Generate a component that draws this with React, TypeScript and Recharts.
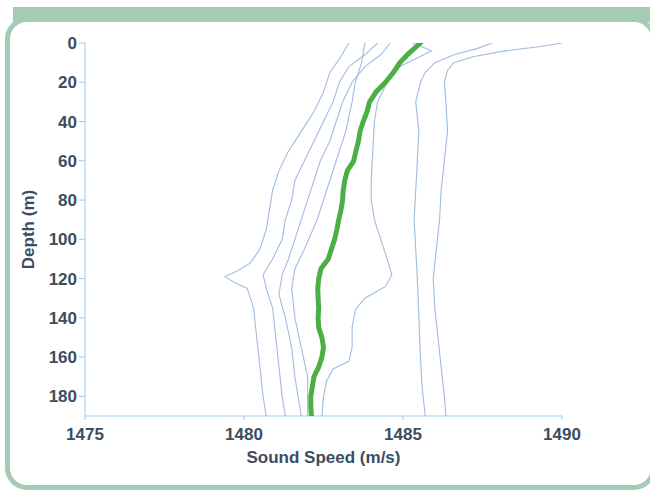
import React from 'react';
import { ScatterChart, Scatter, XAxis, YAxis, Label } from 'recharts';

// Sound speed profiles (depth m -> speed m/s)
const depthA = [0, 2, 4, 7, 10, 14, 20, 30, 45, 60, 75, 90, 105, 120, 135, 150, 165, 180, 190];
const speedA = [1490.0, 1489.2, 1488.2, 1487.2, 1486.6, 1486.4, 1486.3, 1486.35, 1486.4, 1486.3, 1486.2, 1486.15, 1486.05, 1485.95, 1486.0, 1486.1, 1486.2, 1486.3, 1486.35];

const depthB = [0, 3, 6, 10, 15, 20, 30, 45, 60, 75, 90, 105, 120, 140, 160, 175, 190];
const speedB = [1487.8, 1487.3, 1486.6, 1486.0, 1485.7, 1485.55, 1485.4, 1485.5, 1485.45, 1485.4, 1485.35, 1485.4, 1485.45, 1485.5, 1485.55, 1485.6, 1485.7];

const depthC = [0, 4, 8, 12, 20, 30, 40, 55, 70, 80, 90, 100, 110, 118, 124, 130, 136, 145, 155, 162, 166, 172, 180, 190];
const speedC = [1485.3, 1485.9, 1485.4, 1484.9, 1484.5, 1484.2, 1484.1, 1484.05, 1484.0, 1484.0, 1484.1, 1484.3, 1484.5, 1484.65, 1484.45, 1483.8, 1483.5, 1483.4, 1483.4, 1483.3, 1482.8, 1482.6, 1482.5, 1482.45];

const depthD = [0, 8, 15, 25, 35, 45, 55, 65, 75, 85, 95, 105, 112, 116, 119, 122, 125, 135, 150, 165, 180, 190];
const speedD = [1483.3, 1483.0, 1482.7, 1482.5, 1482.2, 1481.8, 1481.4, 1481.1, 1480.9, 1480.8, 1480.7, 1480.5, 1480.2, 1479.8, 1479.4, 1479.7, 1480.1, 1480.3, 1480.4, 1480.5, 1480.6, 1480.7];

const depthE = [0, 6, 12, 20, 30, 40, 50, 60, 70, 80, 90, 100, 110, 118, 125, 135, 150, 165, 180, 190];
const speedE = [1484.2, 1483.8, 1483.3, 1483.0, 1482.8, 1482.5, 1482.2, 1481.9, 1481.6, 1481.5, 1481.3, 1481.2, 1480.9, 1480.6, 1480.7, 1480.9, 1481.0, 1481.1, 1481.2, 1481.3];

const depthF = [0, 6, 12, 20, 30, 40, 50, 60, 70, 80, 90, 100, 110, 118, 128, 140, 155, 170, 180, 190];
const speedF = [1484.6, 1484.3, 1483.8, 1483.4, 1483.1, 1482.9, 1482.7, 1482.4, 1482.2, 1482.0, 1481.8, 1481.6, 1481.4, 1481.2, 1481.1, 1481.3, 1481.5, 1481.6, 1481.7, 1481.8];

const depthH = [0, 10, 20, 30, 45, 60, 75, 90, 105, 115, 125, 140, 155, 170, 190];
const speedH = [1483.8, 1483.7, 1483.5, 1483.4, 1483.2, 1482.9, 1482.6, 1482.3, 1481.9, 1481.6, 1481.5, 1481.6, 1481.8, 1482.0, 1482.0];

// mean profile
const depthMean = [0, 5, 10, 15, 20, 25, 30, 35, 40, 45, 50, 55, 60, 65, 70, 75, 80, 85, 90, 95, 100, 105, 110, 115, 120, 125, 130, 135, 140, 145, 150, 155, 160, 165, 170, 175, 180, 185, 190];
const speedMean = [1485.55, 1485.2, 1484.9, 1484.7, 1484.45, 1484.15, 1483.95, 1483.87, 1483.75, 1483.65, 1483.6, 1483.52, 1483.45, 1483.25, 1483.17, 1483.12, 1483.1, 1483.05, 1482.98, 1482.92, 1482.85, 1482.75, 1482.65, 1482.42, 1482.35, 1482.32, 1482.33, 1482.35, 1482.33, 1482.35, 1482.45, 1482.5, 1482.45, 1482.35, 1482.2, 1482.15, 1482.1, 1482.1, 1482.12];

const xTicks = [1475, 1480, 1485, 1490];
const yTicks = [0, 20, 40, 60, 80, 100, 120, 140, 160, 180];

const toRows = (depth: number[], speed: number[]) => depth.map((d, i) => ({ d, s: speed[i] }));

const profiles = [
  toRows(depthA, speedA),
  toRows(depthB, speedB),
  toRows(depthC, speedC),
  toRows(depthD, speedD),
  toRows(depthE, speedE),
  toRows(depthF, speedF),
  toRows(depthH, speedH),
];
const meanRows = toRows(depthMean, speedMean);

const FRAME = '#a6cbb5';
const AXIS = '#9ccbe6';
const TEXT = '#3b4d61';
const FONT = '"Liberation Sans", Arial, sans-serif';

const noDot = () => <g />;

export default function App() {
  return (
    <div style={{ position: 'absolute', left: 0, top: 0, width: 650, height: 492, background: '#fff', overflow: 'hidden' }}>
      <div style={{ position: 'absolute', left: 13, top: 7, width: 637, height: 15, background: FRAME }} />
      <div
        style={{
          position: 'absolute', left: 5, top: 17, width: 651, height: 473,
          border: `5px solid ${FRAME}`, borderRadius: 22, boxSizing: 'border-box', background: '#fff',
        }}
      />
      <div style={{ position: 'absolute', left: 0, top: 0 }}>
        <ScatterChart width={650} height={492} margin={{ top: 43, right: 88, left: 0, bottom: 0 }}>
          <XAxis
            type="number"
            dataKey="s"
            domain={[1475, 1490]}
            ticks={xTicks}
            allowDataOverflow
            height={76}
            stroke={AXIS}
            tickSize={4}
            tickMargin={8}
            tick={{ fill: TEXT, fontSize: 17, fontWeight: 700, fontFamily: FONT }}
          >
            <Label value="Sound Speed (m/s)" position="center" dy={3} fill={TEXT} fontSize={17} fontWeight={700} fontFamily={FONT} />
          </XAxis>
          <YAxis
            type="number"
            dataKey="d"
            domain={[0, 190]}
            ticks={yTicks}
            reversed
            allowDataOverflow
            width={85}
            stroke={AXIS}
            tickSize={6}
            tickMargin={2}
            tick={{ fill: TEXT, fontSize: 17, fontWeight: 700, fontFamily: FONT }}
          >
            <Label value="Depth (m)" position="center" angle={-90} dx={-15} fill={TEXT} fontSize={17} fontWeight={700} fontFamily={FONT} />
          </YAxis>
          {profiles.map((rows, i) => (
            <Scatter
              key={i}
              data={rows}
              fill="none"
              line={{ stroke: '#8fb0db', strokeWidth: 1.1, strokeOpacity: 0.85 }}
              shape={noDot}
              isAnimationActive={false}
            />
          ))}
          <Scatter
            data={meanRows}
            fill="none"
            line={{ stroke: '#4caf45', strokeWidth: 5, strokeLinejoin: 'round', strokeLinecap: 'round' }}
            shape={noDot}
            isAnimationActive={false}
          />
        </ScatterChart>
      </div>
    </div>
  );
}
